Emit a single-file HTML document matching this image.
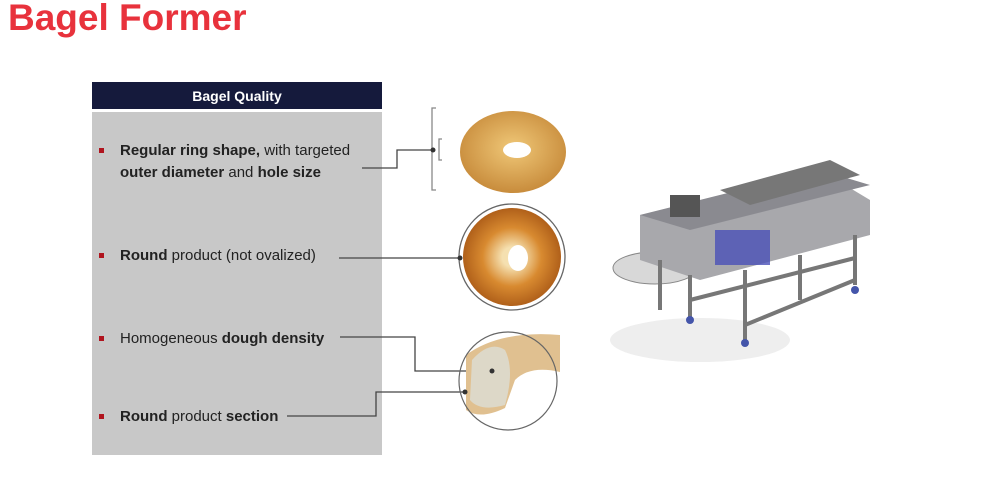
<!DOCTYPE html>
<html><head><style>
body{margin:0;width:1000px;height:491px;background:#fff;position:relative;overflow:hidden;font-family:"Liberation Sans",sans-serif}
.t{position:absolute;left:8px;top:-3px;font-size:37px;font-weight:bold;color:#e8323c}
.hd{position:absolute;left:92px;top:82px;width:290px;height:27px;background:#151a3c;color:#fff;font-weight:bold;font-size:14px;text-align:center;line-height:28px}
.bx{position:absolute;left:92px;top:112px;width:290px;height:343px;background:#c8c8c8}
.i{position:absolute;left:120px;font-size:15px;color:#222;line-height:22px}
.b{position:absolute;left:99px;width:5px;height:5px;background:#b0141e}
</style></head><body>
<div class="t">Bagel Former</div>
<div class="hd">Bagel Quality</div>
<div class="bx"></div>
<div class="b" style="top:148px"></div>
<div class="i" style="top:140px"><b>Regular ring shape,</b> with targeted<br><b>outer diameter</b> and <b>hole size</b></div>
<div class="b" style="top:253px"></div>
<div class="i" style="top:245px"><b>Round</b> product (not ovalized)</div>
<div class="b" style="top:336px"></div>
<div class="i" style="top:328px">Homogeneous <b>dough density</b></div>
<div class="b" style="top:414px"></div>
<div class="i" style="top:406px"><b>Round</b> product <b>section</b></div>
<svg width="1000" height="491" style="position:absolute;left:0;top:0">
<defs>
<radialGradient id="g1" cx="50%" cy="45%" r="55%"><stop offset="0" stop-color="#f0c878"/><stop offset="1" stop-color="#c88c3c"/></radialGradient>
<radialGradient id="g2" cx="50%" cy="50%" r="50%"><stop offset="0.2" stop-color="#f5e0b0"/><stop offset="0.6" stop-color="#d88a30"/><stop offset="1" stop-color="#b0601a"/></radialGradient>
</defs>
<g fill="none" stroke="#444" stroke-width="1.3">
<polyline points="362,168 397,168 397,150 433,150"/>
<path d="M436,108 H432 V190 H436" stroke="#888"/>
<path d="M442,139 H439 V160 H442" stroke="#888"/>
<line x1="339" y1="258" x2="460" y2="258"/>
<polyline points="340,337 415,337 415,371 492,371"/>
<polyline points="287,416 376,416 376,392 465,392"/>
<circle cx="512" cy="257" r="53" stroke="#666"/>
</g>
<ellipse cx="513" cy="152" rx="53" ry="41" fill="url(#g1)"/>
<ellipse cx="517" cy="150" rx="14" ry="8" fill="#fff"/>
<circle cx="512" cy="257" r="49" fill="url(#g2)"/>
<ellipse cx="518" cy="258" rx="10" ry="13" fill="#fff"/>
<path d="M466,355 Q500,330 560,335 L560,372 Q530,365 515,380 L505,408 Q480,420 466,410 Z" fill="#e0c090"/>
<path d="M472,360 Q490,340 505,350 Q515,370 505,405 Q480,412 470,400 Z" fill="#ddd8c8"/>
<circle cx="508" cy="381" r="49" fill="none" stroke="#666" stroke-width="1.2"/>
<g fill="#333"><circle cx="433" cy="150" r="2.5"/><circle cx="460" cy="258" r="2.5"/><circle cx="492" cy="371" r="2.5"/><circle cx="465" cy="392" r="2.5"/></g>
<ellipse cx="700" cy="340" rx="90" ry="22" fill="#eee"/>
<ellipse cx="655" cy="268" rx="42" ry="16" fill="#d8d8d8" stroke="#888"/>
<path d="M640,215 L820,170 L870,200 L870,235 L700,280 L640,260 Z" fill="#a8a8ac"/>
<path d="M640,215 L820,170 L870,185 L690,230 Z" fill="#8a8a90"/>
<rect x="670" y="195" width="30" height="22" fill="#555"/>
<path d="M720,190 L830,160 L860,175 L750,205 Z" fill="#777"/>
<rect x="715" y="230" width="55" height="35" fill="#4a50b8" opacity="0.8"/>
<g stroke="#777" stroke-width="4">
<line x1="660" y1="260" x2="660" y2="310"/><line x1="690" y1="275" x2="690" y2="318"/>
<line x1="745" y1="270" x2="745" y2="340"/><line x1="800" y1="255" x2="800" y2="300"/>
<line x1="855" y1="235" x2="855" y2="285"/><line x1="690" y1="300" x2="855" y2="258"/>
<line x1="745" y1="325" x2="855" y2="280"/>
</g>
<g fill="#4455aa"><circle cx="690" cy="320" r="4"/><circle cx="745" cy="343" r="4"/><circle cx="855" cy="290" r="4"/></g>
</svg>
</body></html>
